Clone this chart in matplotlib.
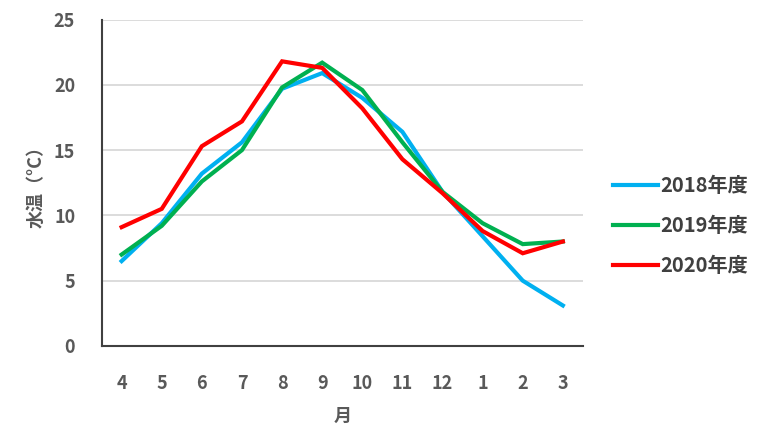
import matplotlib
matplotlib.use("Agg")
import matplotlib.pyplot as plt

plt.rcParams['font.family'] = ['Noto Sans CJK JP', 'DejaVu Sans']

months = ['4', '5', '6', '7', '8', '9', '10', '11', '12', '1', '2', '3']
t2018 = [6.5, 9.4, 13.2, 15.6, 19.7, 20.9, 19.0, 16.4, 11.8, 8.4, 5.0, 3.1]
t2019 = [7.0, 9.2, 12.6, 15.0, 19.8, 21.7, 19.6, 15.6, 11.8, 9.4, 7.8, 8.0]
t2020 = [9.1, 10.5, 15.3, 17.2, 21.8, 21.3, 18.2, 14.3, 11.7, 8.8, 7.1, 8.0]
series = [('2018年度', t2018, '#00B0F0'),
          ('2019年度', t2019, '#00B050'),
          ('2020年度', t2020, '#FF0000')]

fig = plt.figure(figsize=(7.58, 4.25), dpi=100)
ax = fig.add_axes([0.134, 0.186, 0.635, 0.768])

x = range(len(months))
for name, vals, col in series:
    ax.plot(x, vals, color=col, lw=3, label=name, solid_joinstyle='miter')

ax.set_xlim(-0.5, len(months) - 0.5)
ax.set_ylim(0, 25)
ax.set_yticks(range(0, 26, 5))
ax.set_xticks(list(x))
ax.set_xticklabels(months)
ax.yaxis.grid(True, color='#D9D9D9', lw=1.3)
ax.set_axisbelow(True)

for s in ['top', 'right']:
    ax.spines[s].set_visible(False)
for s in ['left', 'bottom']:
    ax.spines[s].set_color('#404040')
    ax.spines[s].set_linewidth(1.5)

ax.tick_params(length=0, labelsize=13, colors='#595959')
ax.tick_params(axis='x', pad=20)
ax.tick_params(axis='y', pad=19)
for lab in ax.get_xticklabels() + ax.get_yticklabels():
    lab.set_fontweight('bold')
ax.set_ylabel('水温（°C）', fontsize=13, color='#595959', fontweight='bold', labelpad=6)
ax.set_xlabel('月', fontsize=13, color='#595959', fontweight='bold', labelpad=10)

leg = fig.legend(loc='center left', bbox_to_anchor=(0.809, 0.47), frameon=False,
                 prop={'size': 14.5, 'weight': 'bold'}, handlelength=2.2,
                 handletextpad=0.15, labelspacing=0.95, borderpad=0,
                 borderaxespad=0)
for t in leg.get_texts():
    t.set_color('#404040')

fig.savefig('out.png', dpi=100)
